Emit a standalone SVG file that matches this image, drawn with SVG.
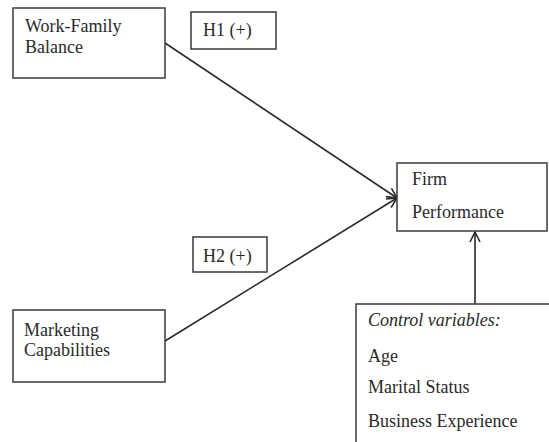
<svg xmlns="http://www.w3.org/2000/svg" width="549" height="442" viewBox="0 0 549 442">
<style>
.box{fill:#fff;stroke:#3a3a3a;stroke-width:1.5}
.t{font-family:"Liberation Serif","Times New Roman",serif;font-size:18px;fill:#2a2a2a}
.it{font-style:italic}
.c{fill:none;stroke:#2a2a2a;stroke-width:1.6}
</style>
<defs>
<marker id="arr" viewBox="0 0 12 12" refX="11" refY="6" markerWidth="12" markerHeight="12" markerUnits="userSpaceOnUse" orient="auto">
<path d="M1,1 L11,6 L1,11" fill="none" stroke="#2a2a2a" stroke-width="1.6"/>
</marker>
</defs>
<rect width="549" height="442" fill="#fff"/>
<g id="connectors">
<line class="c" x1="165" y1="43" x2="397" y2="198" marker-end="url(#arr)"/>
<line class="c" x1="165" y1="341" x2="397" y2="198" marker-end="url(#arr)"/>
<line class="c" x1="475" y1="304" x2="475" y2="232" marker-end="url(#arr)"/>
</g>
<g id="work-family">
<rect class="box" x="13" y="8" width="152" height="70"/>
<text class="t" x="25" y="32">Work-Family</text>
<text class="t" x="25" y="53">Balance</text>
</g>
<g id="h1">
<rect class="box" x="191" y="12" width="85" height="37"/>
<text class="t" x="203" y="36">H1 (+)</text>
</g>
<g id="h2">
<rect class="box" x="193" y="237" width="74" height="35"/>
<text class="t" x="203" y="262">H2 (+)</text>
</g>
<g id="marketing">
<rect class="box" x="13" y="310" width="152" height="72"/>
<text class="t" x="24" y="336">Marketing</text>
<text class="t" x="24" y="356">Capabilities</text>
</g>
<g id="firm">
<rect class="box" x="397" y="163" width="150" height="68"/>
<text class="t" x="412" y="185">Firm</text>
<text class="t" x="412" y="218">Performance</text>
</g>
<g id="control">
<rect class="box" x="356" y="304" width="200" height="150"/>
<text class="t it" x="368" y="326">Control variables:</text>
<text class="t" x="368" y="362">Age</text>
<text class="t" x="368" y="393">Marital Status</text>
<text class="t" x="368" y="427">Business Experience</text>
</g>
</svg>
